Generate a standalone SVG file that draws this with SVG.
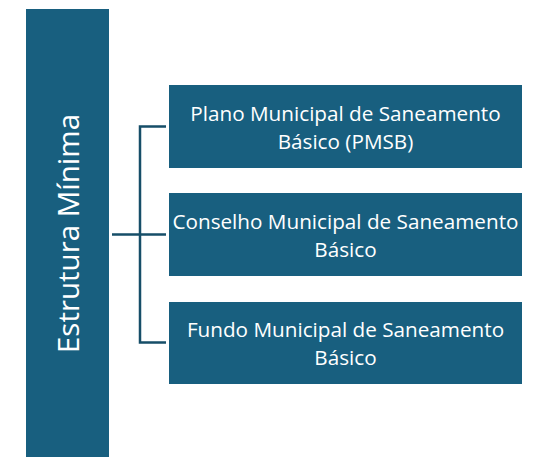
<svg xmlns="http://www.w3.org/2000/svg" width="538" height="457" viewBox="0 0 538 457">
<style>
.box{fill:#185f7f;}
.lbl{font-family:"Open Sans","Noto Sans",sans-serif;font-size:20.7px;fill:#ffffff;text-anchor:middle;}
.conn{fill:none;stroke:#164e68;stroke-width:2.5;}
</style>
<rect width="538" height="457" fill="#ffffff"/>
<g id="root">
<rect class="box" x="26" y="9" width="83" height="448"/>
<text class="lbl" transform="translate(79,233.5) rotate(-90)" style="font-size:29.5px">Estrutura Mínima</text>
</g>
<g id="connectors">
<path class="conn" d="M112,234.5 H166 M166,126.5 H140 V342.5 H166"/>
</g>
<g id="n1">
<rect class="box" x="169" y="85" width="353" height="83"/>
<text class="lbl" x="345.5" y="120.5">Plano Municipal de Saneamento</text>
<text class="lbl" x="345.5" y="149">Básico (PMSB)</text>
</g>
<g id="n2">
<rect class="box" x="169" y="193" width="353" height="83"/>
<text class="lbl" x="345.5" y="228.5">Conselho Municipal de Saneamento</text>
<text class="lbl" x="345.5" y="256.5">Básico</text>
</g>
<g id="n3">
<rect class="box" x="169" y="302" width="353" height="82"/>
<text class="lbl" x="345.5" y="337">Fundo Municipal de Saneamento</text>
<text class="lbl" x="345.5" y="365">Básico</text>
</g>
</svg>
